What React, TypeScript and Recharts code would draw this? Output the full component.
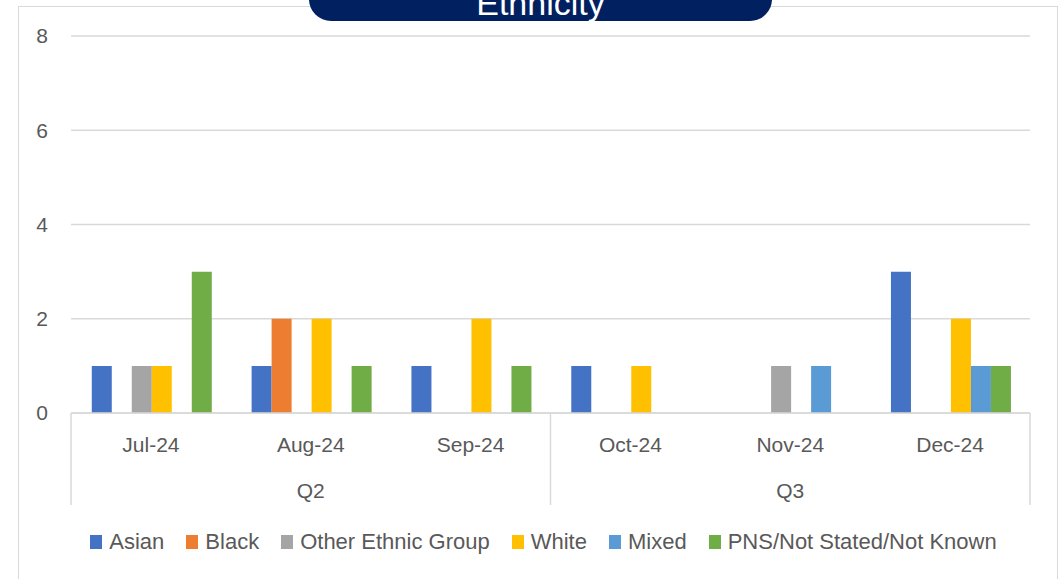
import { BarChart, Bar, XAxis, YAxis, CartesianGrid } from "recharts";

const months = ["Jul-24", "Aug-24", "Sep-24", "Oct-24", "Nov-24", "Dec-24"];
const quarters = ["Q2", "Q2", "Q2", "Q3", "Q3", "Q3"];

const asian = [1, 1, 1, 1, 0, 3];
const black = [0, 2, 0, 0, 0, 0];
const other = [1, 0, 0, 0, 1, 0];
const white = [1, 2, 2, 1, 0, 2];
const mixed = [0, 0, 0, 0, 1, 1];
const pns = [3, 1, 1, 0, 0, 1];

const yTicks = [0, 2, 4, 6, 8];

const series = [
  { key: "asian", name: "Asian", color: "#4472C4", values: asian },
  { key: "black", name: "Black", color: "#ED7D31", values: black },
  { key: "other", name: "Other Ethnic Group", color: "#A5A5A5", values: other },
  { key: "white", name: "White", color: "#FFC000", values: white },
  { key: "mixed", name: "Mixed", color: "#5B9BD5", values: mixed },
  { key: "pns", name: "PNS/Not Stated/Not Known", color: "#70AD47", values: pns },
];

const data = months.map((m, i) => {
  const row: Record<string, string | number> = { month: m, quarter: quarters[i] };
  series.forEach(s => { row[s.key] = s.values[i]; });
  return row;
});

const FONT = "'Liberation Sans', Arial, sans-serif";
const TEXT = "#595959";
const LINE = "#d9d9d9";

function MonthTick(props: any) {
  const { x, y, payload, index } = props;
  const half = payload.offset ?? 80;
  const q = quarters[index];
  const first = index === 0 || quarters[index - 1] !== q;
  const last = index === quarters.length - 1;
  const middle = quarters[index - 1] === q && quarters[index + 1] === q;
  return (
    <g>
      <text x={x} y={y + 39} textAnchor="middle" fontSize={21} fill={TEXT} fontFamily={FONT}>{payload.value}</text>
      {middle && (
        <text x={x} y={y + 85} textAnchor="middle" fontSize={21} fill={TEXT} fontFamily={FONT}>{q}</text>
      )}
      {first && <line x1={x - half} x2={x - half} y1={y} y2={y + 92} stroke={LINE} strokeWidth={1.5} />}
      {last && <line x1={x + half} x2={x + half} y1={y} y2={y + 92} stroke={LINE} strokeWidth={1.5} />}
    </g>
  );
}

export default function App() {
  return (
    <div style={{ position: "absolute", left: 0, top: 0, width: 1063, height: 579, background: "#fff", overflow: "hidden", fontFamily: FONT }}>
      <div style={{ position: "absolute", left: 18, top: 6, width: 1040, height: 620, border: `1.5px solid ${LINE}`, boxSizing: "border-box" }} />
      <BarChart
        width={1063}
        height={579}
        data={data}
        margin={{ top: 36, right: 33, left: 0, bottom: 71 }}
        barCategoryGap="13%"
        barGap={0}
        style={{ position: "absolute", left: 0, top: 0 }}
      >
        <CartesianGrid vertical={false} stroke={LINE} strokeWidth={1.5} />
        <YAxis
          domain={[0, 8]}
          ticks={yTicks}
          axisLine={false}
          tickLine={false}
          tickSize={0}
          tickMargin={23}
          width={71}
          tick={{ fontSize: 21, fill: TEXT, fontFamily: FONT }}
        />
        <XAxis
          dataKey="month"
          height={95}
          axisLine={{ stroke: LINE, strokeWidth: 1.5 }}
          tickLine={false}
          tickSize={0}
          tickMargin={0}
          interval={0}
          tick={<MonthTick />}
        />
        {series.map(s => (
          <Bar key={s.key} dataKey={s.key} name={s.name} fill={s.color} isAnimationActive={false} />
        ))}
      </BarChart>
      <div style={{ position: "absolute", left: 23, top: 529, width: 1063, display: "flex", justifyContent: "center", alignItems: "center", fontSize: 22, color: TEXT }}>
        {series.map(s => (
          <div key={s.key} style={{ display: "flex", alignItems: "center", marginRight: 22 }}>
            <span style={{ display: "inline-block", width: 12, height: 14, background: s.color, marginRight: 7 }} />
            <span>{s.name}</span>
          </div>
        ))}
      </div>
      <div style={{ position: "absolute", left: 309, top: -35, width: 463, height: 56, background: "#002060", borderRadius: 22, display: "flex", justifyContent: "center", alignItems: "flex-end", color: "#fff", fontSize: 34, lineHeight: "34px", paddingBottom: 1, boxSizing: "border-box" }}>
        Ethnicity
      </div>
    </div>
  );
}
